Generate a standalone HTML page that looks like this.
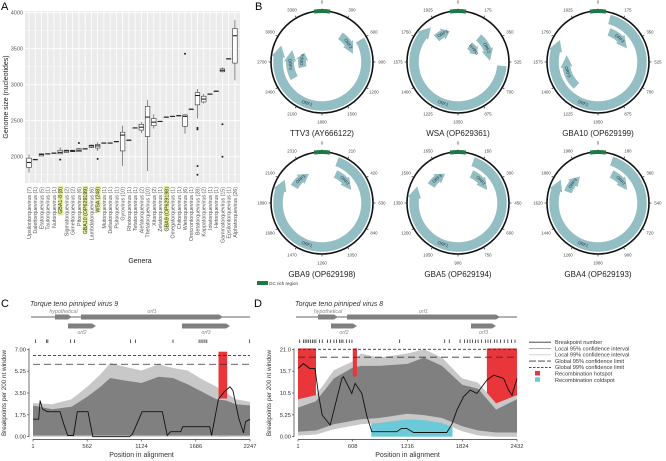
<!DOCTYPE html>
<html><head><meta charset="utf-8"><style>
html,body{margin:0;padding:0;background:#fff;}
svg{display:block;font-family:"Liberation Sans",sans-serif;}
</style></head><body>
<svg id="fig" width="666" height="461" viewBox="0 0 666 461" xmlns="http://www.w3.org/2000/svg">
<text x="1" y="10" font-size="11">A</text>
<text x="255" y="10" font-size="11">B</text>
<text x="1" y="307" font-size="11">C</text>
<text x="254" y="307" font-size="11">D</text>
<g id="pa"></g>
<g id="pb"></g>
<g id="pc"></g>
<g id="pd"></g>
</svg>
<script>
// ---------- Panel A data ----------
const genera = ["Upsilontorquevirus (7)","Dalettorquevirus (1)","Etatorquevirus (5)","Tautorquevirus (1)","Nutorquevirus (1)","GBA1-8 (8)","Sigmatorquevirus (2)","Gimeltorquevirus (2)","Pitorquevirus (6)","GBA10 (OP629199)","Lambdatorquevirus (6)","WSA (248)","Mutorquevirus (1)","Deltatorquevirus (1)","Psitorquevirus (1)","Gyrovirus (10)","Rhotorquevirus (1)","Tetatorquevirus (1)","Alefatorquevirus (2)","Thetatorquevirus (10)","Xitorquevirus (2)","Zetatorquevirus (1)","GBA9 (OP629198)","Omegatorquevirus (1)","Chitorquevirus (1)","Wietorquevirus (6)","Omicrontorquevirus (1)","Betatorquevirus (28)","Kappatorquevirus (2)","Iotatorquevirus (1)","Hetorquevirus (1)","Gammatorquevirus (15)","Epsilontorquevirus (1)","Alphatorquevirus (26)"];
const highlighted = ["GBA1-8 (8)","GBA10 (OP629199)","WSA (248)","GBA9 (OP629198)"];
const medians = [1920,1960,2030,2040,2050,2060,2080,2080,2090,2110,2150,2150,2190,2190,2210,2300,2230,2400,2410,2550,2480,2490,2550,2560,2570,2560,2660,2850,2800,2870,2910,3200,3360,3680];
const q1s     = [1850,1960,2010,2040,2050,2040,2060,2070,2070,2110,2130,2120,2190,2190,2210,2080,2230,2400,2370,2280,2430,2490,2550,2560,2570,2420,2660,2720,2760,2870,2910,3180,3360,3300];
const q3s     = [1980,1960,2040,2040,2050,2090,2090,2090,2110,2110,2160,2170,2190,2190,2210,2340,2230,2400,2450,2700,2530,2490,2550,2560,2570,2580,2660,2890,2840,2870,2910,3220,3360,3780];
const mins    = [1780,1960,2010,2040,2050,2040,2060,2070,2070,2110,2120,2080,2190,2190,2210,1870,2230,2400,2330,1800,2390,2490,2550,2560,2570,2320,2660,2530,2740,2870,2910,3170,3360,3060];
const maxs    = [2030,1960,2040,2040,2050,2130,2100,2090,2120,2110,2170,2200,2190,2190,2210,2430,2230,2400,2480,2790,2590,2490,2550,2560,2570,2590,2660,2940,2870,2870,2910,3240,3360,3900];
const outlierIdx = [5,8,11,25,27,27,27,27,31,31];
const outlierVal = [1960,2190,1970,3430,2400,2380,1870,1750,2450,2000];
const yTicksA = [2000,2500,3000,3500,4000];

// ---------- Panel B data ----------
const genomes = ["TTV3 (AY666122)","WSA (OP629361)","GBA10 (OP629199)","GBA9 (OP629198)","GBA5 (OP629194)","GBA4 (OP629193)"];
const tickSteps = [300,175,175,210,150,180];
const orfNames = [["ORF1","ORF2","ORF3","ORF4"],["ORF1","ORF2","HYPO","ORF3"],["ORF1","ORF2","ORF3"],["ORF1","ORF2","ORF3"],["ORF1","ORF2","ORF3"],["ORF1","ORF2","ORF3"]];
const orfStart = [[60,35,240,255],[95,40,35,318],[15,20,222],[20,25,300],[20,25,303],[18,25,290]];
const orfEnd   = [[292,75,292,298],[322,88,68,345],[300,65,282],[302,66,336],[292,66,336],[302,66,326]];
const orfTrack = [[0,1,1,2],[0,1,2,1],[0,1,1],[0,1,1],[0,1,1],[0,1,1]];

// ---------- Panel C data ----------
const cPos = [1,200,400,562,700,800,950,1124,1300,1450,1600,1750,1900,2000,2100,2247];
const cUpper99 = [2.7,2.6,3.0,4.0,5.0,5.9,5.6,5.3,5.8,5.5,5.3,4.6,4.0,3.5,3.0,2.8];
const cUpper95 = [2.5,2.2,2.4,3.2,4.0,4.7,4.5,4.3,4.8,4.7,4.2,3.6,3.0,2.9,2.6,2.5];
const cLinePos = [1,60,75,100,150,280,320,360,420,460,530,570,620,1000,1030,1130,1340,1390,1425,1530,1550,1830,1850,1920,1980,2040,2070,2130,2180,2200,2247];
const cLineVal = [1.4,1.4,2.9,2.2,2.0,2.0,1.0,0.1,0.1,2.0,2.0,2.0,0.0,0.0,0.2,2.0,2.0,0.1,0.4,0.4,0.8,0.8,0.1,3.0,3.6,4.0,3.7,1.5,0.3,1.2,1.4];
const cBreaks = [25,140,155,390,430,1010,1060,1450,1720,1740,1760,1780,1800,2240];
const cHotStart = [1922]; const cHotEnd = [2010]; const cHotTop = [6.8];
const cTicksX = [1,562,1124,1686,2247];
const cTicksY = [0,1.75,3.5,5.25,7.0];
const cTickLbl = ["0.00","1.75","3.50","5.25","7.00"];
const cGlobal95 = 5.8, cGlobal99 = 6.5;

// ---------- Panel D data ----------
const dPos = [1,200,400,600,700,900,1216,1400,1600,1824,2000,2200,2432];
const dUpper99 = [9,10,16,18,20,19,20,21,19,14,13,8,10];
const dUpper95 = [7,8.5,14,16.5,17,17,17.5,19,17,12.5,11.5,6.5,9];
const dLower95 = [1.2,1.5,3,3.8,4.2,4.5,5.5,5.2,4.5,2.5,1.5,1,1];
const dLower99 = [0.3,0.5,1.8,2.6,3,3.3,4.2,4,3.3,1.3,0.3,0,0];
const dLinePos = [1,60,130,190,230,270,358,488,506,598,635,709,765,820,1098,1150,1209,1283,1394,1653,1709,1765,1839,1913,1987,2098,2172,2283,2339,2376,2432];
const dLineVal = [16.4,17.6,16.4,16.4,10,5.2,2.8,14,14.4,10.4,12.8,10.4,5,1.2,1.2,2.0,2.0,1.0,1.0,1.0,3,6.4,9.6,11.2,10.4,13.6,14.8,14,11.2,10,14];
const dBreaks = [20,60,80,100,120,140,160,180,200,240,270,330,360,400,430,460,480,500,540,570,600,1130,1630,1680,1800,1850,1880,1910,1940,1970,2000,2040,2080,2110,2140,2180,2210,2250,2290,2330,2370,2410];
const dHotStart = [1,610,2098]; const dHotEnd = [200,655,2432]; const dHotBottom = [5,9,5.5];
const dColdStart = [814]; const dColdEnd = [1716]; const dColdTop = [4.2];
const dTicksX = [1,608,1216,1824,2432];
const dTicksY = [0,5.25,10.5,15.75,21.0];
const dTickLbl = ["0.00","5.25","10.5","15.7","21.0"];
const dGlobal95 = 19.1, dGlobal99 = 21.0;
const legendLabels = ["Breakpoint number","Local 95% confidence interval","Local 99% confidence interval","Global 95% confidence limit","Global 99% confidence limit","Recombination hotspot","Recombination coldspot"];

const NS = "http://www.w3.org/2000/svg";
function mk(parent, tag, attrs, txt){
  const e = document.createElementNS(NS, tag);
  for (const k in attrs) e.setAttribute(k, attrs[k]);
  if (txt !== undefined) e.textContent = txt;
  parent.appendChild(e);
  return e;
}
let el;

// ================= Panel A =================
const pa = document.getElementById('pa');
const ax0 = 25, ax1 = 240, ayT = 11, ayB = 183;
const yA = v => 156.7 - (v - 2000) * 0.072;
const xA = i => 29 + i * 6.24;
el = mk(pa,'rect',{x:ax0,y:ayT,width:ax1-ax0,height:ayB-ayT,fill:'#ebebeb'});


for (let v = 1750; v <= 4000; v += 250) {
  const major = v % 500 === 0;
  el = mk(pa,'line',{x1:ax0,x2:ax1,y1:yA(v),y2:yA(v),stroke:'#fff','stroke-width':major?0.9:0.4});
  
  
}
genera.forEach((g,i)=>{
  el = mk(pa,'line',{x1:xA(i),x2:xA(i),y1:ayT,y2:ayB,stroke:'#fff','stroke-width':0.8});
  
  
});
yTicksA.forEach(v=>{
  el = mk(pa,'text',{x:ax0-2,y:yA(v)+2,'font-size':5.5,fill:'#555','text-anchor':'end'},String(v));
  
  
});
genera.forEach((g,i)=>{
  const x = xA(i);
  const bg = mk(pa,'g',{});
  
  
  mk(bg,'line',{x1:x,x2:x,y1:yA(maxs[i]),y2:yA(mins[i]),stroke:'#444','stroke-width':0.6});
  mk(bg,'rect',{x:x-2.3,y:yA(q3s[i]),width:4.6,height:Math.max(0.3,yA(q1s[i])-yA(q3s[i])),fill:'#fff',stroke:'#333','stroke-width':0.6});
  mk(bg,'line',{x1:x-2.3,x2:x+2.3,y1:yA(medians[i]),y2:yA(medians[i]),stroke:'#222','stroke-width':1.1});
  const tx = x + 2;
  if (highlighted.includes(g)) {
    el = mk(pa,'rect',{x:x-2.6,y:186,width:5.6,height:g.length*2.85+1,fill:'#e6ee9c'});
    
    
  }
  el = mk(pa,'text',{x:tx,y:187,'font-size':5.3,fill:highlighted.includes(g)?'#333':'#555','text-anchor':'end',transform:`rotate(-90 ${tx} 187)`},g);
  
  
});
outlierIdx.forEach((ix,k)=>{
  el = mk(pa,'circle',{cx:xA(ix),cy:yA(outlierVal[k]),r:1,fill:'#222'});
  
  
});
el = mk(pa,'text',{x:140,y:263,'font-size':7,fill:'#222','text-anchor':'middle'},'Genera');


el = mk(pa,'text',{x:8,y:97,'font-size':7,fill:'#222','text-anchor':'middle',transform:'rotate(-90 8 97)'},'Genome size (nucleotides)');



// ================= Panel B =================
const pb = document.getElementById('pb');
const centers = [[322,62],[458,62],[598,62],[322,203],[458,203],[598,203]];
const R = 51;
const pt = (cx,cy,r,a)=>[cx + r*Math.sin(a*Math.PI/180), cy - r*Math.cos(a*Math.PI/180)];
function arrowPts(cx,cy,rc,w,a0,a1){
  const span = a1 - a0;
  const head = Math.min(14, span*0.4) * (48/rc);
  const ah = a1 - Math.min(head, span*0.5);
  const pts = [];
  for (let a=a0; a<=ah; a+=2) pts.push(pt(cx,cy,rc+w/2,a));
  pts.push(pt(cx,cy,rc+w/2,ah));
  pts.push(pt(cx,cy,rc+w/2+2,ah));
  pts.push(pt(cx,cy,rc,a1));
  pts.push(pt(cx,cy,rc-w/2-2,ah));
  for (let a=ah; a>=a0; a-=2) pts.push(pt(cx,cy,rc-w/2,a));
  pts.push(pt(cx,cy,rc-w/2,a0));
  return pts.map(p=>p[0].toFixed(1)+','+p[1].toFixed(1)).join(' ');
}
genomes.forEach((gname,gi)=>{
  const [cx,cy] = centers[gi];
  const g = mk(pb,'g',{});
  
  
  mk(g,'circle',{cx:cx,cy:cy,r:R,fill:'none',stroke:'#111','stroke-width':1.6});
  for (let k=0;k<12;k++){
    const a = k*30;
    const p1 = pt(cx,cy,R,a), p2 = pt(cx,cy,R+2.5,a), pl = pt(cx,cy,R+9,a);
    mk(g,'line',{x1:p1[0],y1:p1[1],x2:p2[0],y2:p2[1],stroke:'#111','stroke-width':0.6});
    mk(g,'text',{x:pl[0],y:pl[1]+1.5,'font-size':4.3,fill:'#444','text-anchor':'middle'},String(k*tickSteps[gi]));
  }
  const gc1 = pt(cx,cy,R,-9), gc2 = pt(cx,cy,R,9);
  el = mk(g,'path',{d:`M${gc1[0]},${gc1[1]} A${R},${R} 0 0 1 ${gc2[0]},${gc2[1]}`,stroke:'#1e7a45','stroke-width':4,fill:'none'});
  
  
  orfNames[gi].forEach((nm,oi)=>{
    const tr = orfTrack[gi][oi];
    const rc = tr===0 ? R-7 : (tr===1 ? R-19 : R-31);
    const w = tr===0 ? 9.5 : 8;
    el = mk(g,'polygon',{points:arrowPts(cx,cy,rc,w,orfStart[gi][oi],orfEnd[gi][oi]),fill:'#93bec3'});
    
    
    let mid = (orfStart[gi][oi]+orfEnd[gi][oi])/2;
    if (tr===0) mid = 200;
    const lp = pt(cx,cy,rc,mid);
    let rot = mid; if (mid>90 && mid<270) rot = mid-180;
    el = mk(g,'text',{x:lp[0],y:lp[1]+1.3,'font-size':4.2,fill:'#234','text-anchor':'middle',transform:`rotate(${rot} ${lp[0]} ${lp[1]})`},nm);
    
    
  });
  el = mk(pb,'text',{x:cx,y:cy+74,'font-size':8,fill:'#222','text-anchor':'middle'},gname);
  
  
});
el = mk(pb,'rect',{x:257,y:281,width:11,height:4,fill:'#1e7a45'});


el = mk(pb,'text',{x:269,y:285,'font-size':4.5,fill:'#333'},'GC rich region');



// ================= Panels C & D =================
function recPanel(p, cfg){
  const {x0,x1,xmax,vmax,pos,u99,u95,l95,l99,lp,lv,brk,hs,he,hb,ht,cs,ce,ct,tx,ty,tl,g95,g99,title,genes} = cfg;
  const X = v => x0 + (v-1)/(xmax-1)*(x1-x0);
  const Y = v => 436.7 - v/vmax*87.4;
  el = mk(p,'text',{x:x0-3,y:306,'font-size':7,'font-style':'italic',fill:'#333'},title);
  
  
  el = mk(p,'line',{x1:x0-2,x2:x1,y1:317,y2:317,stroke:'#333','stroke-width':0.8});
  
  
  genes.forEach(gn=>{
    const [a,b,y,name,ly] = gn;
    el = mk(p,'polygon',{points:`${a},${y-2.5} ${b-4},${y-2.5} ${b},${y} ${b-4},${y+2.5} ${a},${y+2.5}`,fill:'#808080'});
    
    
    el = mk(p,'text',{x:(a+b)/2,y:ly,'font-size':5.3,'font-style':'italic',fill:'#888','text-anchor':'middle'},name);
    
    
  });
  brk.forEach(b=>{
    el = mk(p,'line',{x1:X(b),x2:X(b),y1:339.5,y2:343,stroke:'#111','stroke-width':0.7});
    
    
  });
  hs.forEach((s,i)=>{
    el = mk(p,'rect',{x:X(s),y:Y(ht[i]),width:X(he[i])-X(s),height:Y(hb[i])-Y(ht[i]),fill:'#e8363a'});
    
    
  });
  cs.forEach((s,i)=>{
    el = mk(p,'rect',{x:X(s),y:Y(ct[i]),width:X(ce[i])-X(s),height:Y(0)-Y(ct[i]),fill:'#6ccad8'});
    
    
  });
  const band = (up,lo,col,name)=>{
    const top = pos.map((q,i)=>X(q).toFixed(1)+','+Y(up[i]).toFixed(1));
    const bot = pos.map((q,i)=>X(q).toFixed(1)+','+Y(lo[i]).toFixed(1)).reverse();
    el = mk(p,'polygon',{points:top.concat(bot).join(' '),fill:col});
    
    
  };
  band(u99,l99,'#c8c8c8','local-99-ci-band');
  band(u95,l95,'#808080','local-95-ci-band');
  hs.forEach((s,i)=>{
    el = mk(p,'rect',{x:X(s),y:Y(ht[i]),width:X(he[i])-X(s),height:Math.max(0,Y(hb[i])-Y(ht[i]))*0.55,fill:'#e8363a'});
    
    
  });
  el = mk(p,'line',{x1:x0,x2:x1,y1:Y(g99),y2:Y(g99),stroke:'#333','stroke-width':0.8,'stroke-dasharray':'3,2'});
  
  
  el = mk(p,'line',{x1:x0,x2:x1,y1:Y(g95),y2:Y(g95),stroke:'#333','stroke-width':0.8,'stroke-dasharray':'7,4'});
  
  
  el = mk(p,'polyline',{points:lp.map((q,i)=>X(q).toFixed(1)+','+Y(lv[i]).toFixed(1)).join(' '),fill:'none',stroke:'#111','stroke-width':0.9});
  
  
  el = mk(p,'line',{x1:x0-4,x2:x0-4,y1:Y(vmax)-1,y2:Y(0),stroke:'#333','stroke-width':0.7});
  
  
  el = mk(p,'line',{x1:x0,x2:x1,y1:439.5,y2:439.5,stroke:'#333','stroke-width':0.7});
  
  
  ty.forEach((v,i)=>{
    mk(p,'line',{x1:x0-6,x2:x0-4,y1:Y(v),y2:Y(v),stroke:'#333','stroke-width':0.6});
    el = mk(p,'text',{x:x0-7,y:Y(v)+2,'font-size':5.8,fill:'#333','text-anchor':'end'},tl[i]);
    
    
  });
  tx.forEach(v=>{
    mk(p,'line',{x1:X(v),x2:X(v),y1:439.5,y2:441.5,stroke:'#333','stroke-width':0.6});
    el = mk(p,'text',{x:X(v),y:448,'font-size':5.8,fill:'#333','text-anchor':'middle'},String(v));
    
    
  });
  el = mk(p,'text',{x:(x0+x1)/2,y:457,'font-size':7,fill:'#333','text-anchor':'middle'},'Position in alignment');
  
  
  const yx = x0-27;
  el = mk(p,'text',{x:yx,y:393,'font-size':6.3,fill:'#333','text-anchor':'middle',transform:`rotate(-90 ${yx} 393)`},'Breakpoints per 200 nt window');
  
  
}
recPanel(document.getElementById('pc'),{x0:33,x1:250,xmax:2247,vmax:7,pos:cPos,u99:cUpper99,u95:cUpper95,
  l95:cPos.map(()=>0.1),l99:cPos.map(()=>0),lp:cLinePos,lv:cLineVal,brk:cBreaks,hs:cHotStart,he:cHotEnd,
  hb:cHotStart.map(()=>0),ht:cHotTop,cs:[],ce:[],ct:[],tx:cTicksX,ty:cTicksY,tl:cTickLbl,g95:cGlobal95,g99:cGlobal99,
  title:'Torque teno pinniped virus 9',
  genes:[[55,72,317,'hypothetical',313],[81,223,317,'orf1',313],[68,96,326,'orf2',334],[182,230,326,'orf3',334]]});
recPanel(document.getElementById('pd'),{x0:298,x1:517,xmax:2432,vmax:21,pos:dPos,u99:dUpper99,u95:dUpper95,
  l95:dLower95,l99:dLower99,lp:dLinePos,lv:dLineVal,brk:dBreaks,hs:dHotStart,he:dHotEnd,
  hb:dHotBottom,ht:dHotStart.map(()=>21.2),cs:dColdStart,ce:dColdEnd,ct:dColdTop,tx:dTicksX,ty:dTicksY,tl:dTickLbl,g95:dGlobal95,g99:dGlobal99,
  title:'Torque teno pinniped virus 8',
  genes:[[318,338,317,'hypothetical',313],[347,500,317,'orf1',313],[331,357,326,'orf2',334],[471,496,326,'orf3',334]]});
const lg = document.getElementById('pd');
legendLabels.forEach((t,i)=>{
  const y = 344 + i*6.3;
  let e2;
  if (i<5) {
    const col = ['#333','#aaa','#ccc','#333','#333'][i];
    const da = ['none','none','none','7,2','2.5,1.5'][i];
    e2 = mk(lg,'line',{x1:529,x2:551,y1:y-1.8,y2:y-1.8,stroke:col,'stroke-width':0.9,'stroke-dasharray':da});
  } else {
    e2 = mk(lg,'rect',{x:535,y:y-4.5,width:5,height:4.5,fill:i===5?'#e8363a':'#6ccad8'});
  }
  
  
  el = mk(lg,'text',{x:555,y:y,'font-size':5.6,fill:'#333'},t);
  
  
});
</script>
</body></html>
